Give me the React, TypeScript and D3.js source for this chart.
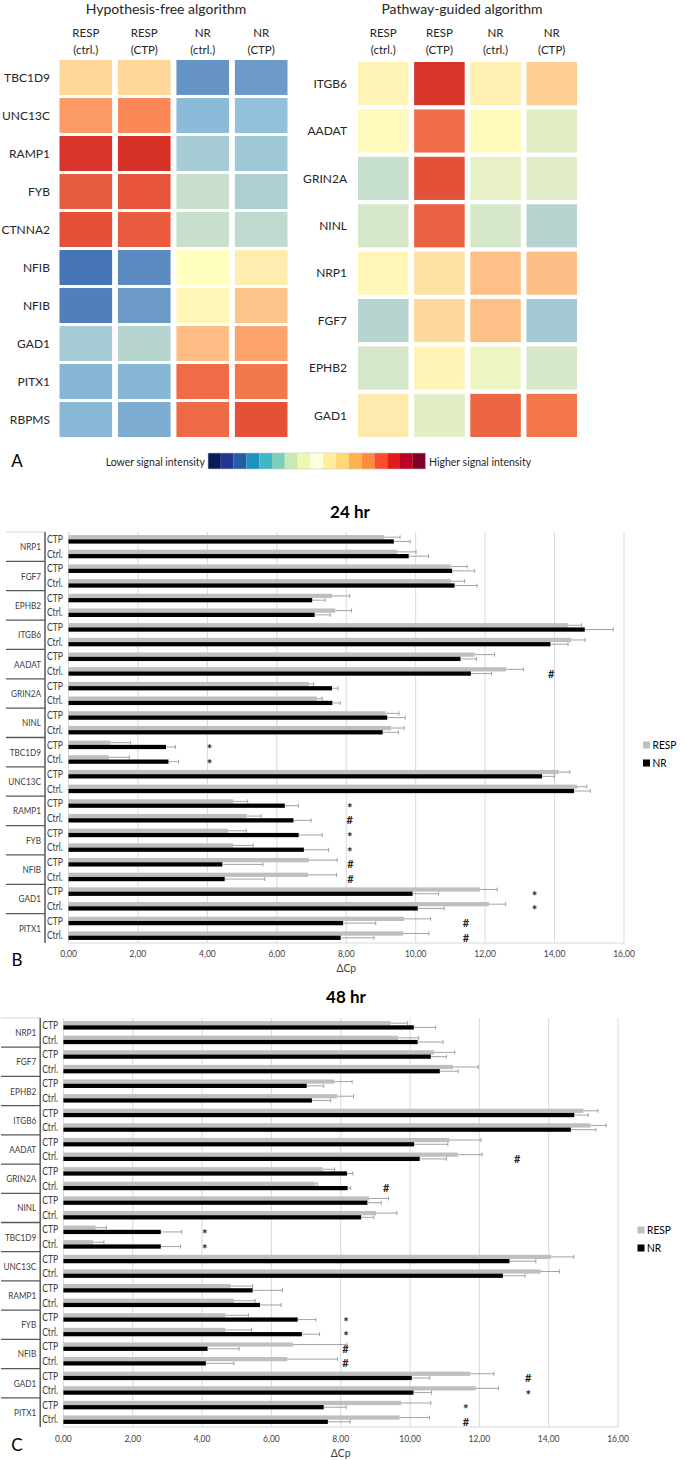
import * as d3 from 'd3';

// ── Panel A: heatmaps ───────────────────────────────────────────────────────
const heatCols = ['RESP|(ctrl.)', 'RESP|(CTP)', 'NR|(ctrl.)', 'NR|(CTP)'];

const hfGenes = ['TBC1D9', 'UNC13C', 'RAMP1', 'FYB', 'CTNNA2', 'NFIB', 'NFIB', 'GAD1', 'PITX1', 'RBPMS'];
// relative signal intensity, -1 (low) … 1 (high)
const hfValues = [
  [0.18, 0.18, -0.79, -0.74],
  [0.44, 0.52, -0.53, -0.49],
  [0.98, 1.0, -0.4, -0.44],
  [0.76, 0.8, -0.25, -0.37],
  [0.83, 0.77, -0.25, -0.29],
  [-1.0, -0.86, 0.0, 0.08],
  [-0.93, -0.75, 0.04, 0.26],
  [-0.4, -0.33, 0.29, 0.4],
  [-0.57, -0.57, 0.68, 0.62],
  [-0.55, -0.63, 0.69, 0.83],
];

const pgGenes = ['ITGB6', 'AADAT', 'GRIN2A', 'NINL', 'NRP1', 'FGF7', 'EPHB2', 'GAD1'];
const pgValues = [
  [0.05, 0.98, 0.07, 0.21],
  [0.02, 0.67, 0.02, -0.13],
  [-0.26, 0.82, -0.11, -0.14],
  [-0.19, 0.73, -0.18, -0.33],
  [0.04, 0.13, 0.27, 0.28],
  [-0.33, 0.17, 0.27, -0.42],
  [-0.19, 0.05, -0.07, -0.18],
  [0.09, -0.13, 0.71, 0.63],
];

const legendColors = [
  '#081d58', '#253494', '#225ea8', '#1d91c0', '#41b6c4', '#7fcdbb', '#c7e9b4', '#edf8b1', '#ffffd9',
  '#ffeda0', '#fed976', '#feb24c', '#fd8d3c', '#fc4e2a', '#e31a1c', '#bd0026', '#800026',
];

// ── Panels B / C: ΔCp bars ─────────────────────────────────────────────────
const barGenes = ['NRP1', 'FGF7', 'EPHB2', 'ITGB6', 'AADAT', 'GRIN2A', 'NINL', 'TBC1D9', 'UNC13C', 'RAMP1', 'FYB', 'NFIB', 'GAD1', 'PITX1'];
const conditions = ['CTP', 'Ctrl.'];
const xTicks = [0, 2, 4, 6, 8, 10, 12, 14, 16];

// order: gene by gene, CTP then Ctrl.
const resp24 = [9.10, 9.46, 11.01, 11.01, 7.59, 7.68, 14.38, 14.48, 11.70, 12.60, 6.92, 7.15, 9.13, 9.29, 1.21, 1.16, 14.12, 14.65, 4.75, 5.13, 4.59, 4.74, 6.92, 6.90, 11.85, 12.11, 9.67, 9.64];
const resp24Err = [0.45, 0.55, 0.47, 0.40, 0.51, 0.47, 0.40, 0.40, 0.57, 0.51, 0.14, 0.16, 0.39, 0.38, 0.58, 0.59, 0.32, 0.28, 0.41, 0.42, 0.53, 0.58, 0.82, 0.82, 0.50, 0.48, 0.76, 0.74];
const nr24 = [9.37, 9.80, 11.05, 11.12, 7.02, 7.09, 14.87, 13.88, 11.29, 11.59, 7.59, 7.60, 9.18, 9.05, 2.81, 2.88, 13.64, 14.56, 6.23, 6.48, 6.63, 6.78, 4.43, 4.50, 9.91, 10.06, 7.91, 7.84];
const nr24Err = [0.47, 0.57, 0.65, 0.65, 0.37, 0.45, 0.82, 0.51, 0.46, 0.59, 0.17, 0.23, 0.52, 0.45, 0.27, 0.29, 0.36, 0.47, 0.39, 0.51, 0.68, 0.71, 1.17, 1.15, 0.75, 0.76, 0.94, 0.96];

const resp48 = [9.44, 9.65, 10.70, 11.24, 7.82, 7.90, 15.00, 15.21, 11.14, 11.38, 7.48, 7.26, 8.82, 9.02, 0.93, 0.86, 14.07, 13.77, 4.83, 4.92, 4.67, 4.67, 6.62, 6.46, 11.74, 11.90, 9.74, 9.70];
const resp48Err = [0.49, 0.60, 0.59, 0.73, 0.51, 0.47, 0.42, 0.45, 0.91, 0.70, 0.34, 0.06, 0.56, 0.60, 0.31, 0.31, 0.66, 0.54, 0.63, 0.61, 0.67, 0.76, 1.56, 1.45, 0.68, 0.65, 0.86, 0.86];
const nr48 = [10.11, 10.22, 10.60, 10.86, 7.02, 7.17, 14.74, 14.64, 10.12, 10.28, 8.18, 8.20, 8.77, 8.59, 2.81, 2.81, 12.87, 12.68, 5.46, 5.67, 6.76, 6.88, 4.16, 4.11, 10.05, 10.10, 7.51, 7.63];
const nr48Err = [0.63, 0.73, 0.45, 0.53, 0.49, 0.54, 0.40, 0.72, 0.97, 0.77, 0.17, 0.09, 0.40, 0.37, 0.60, 0.57, 0.76, 0.64, 0.86, 0.61, 0.52, 0.51, 0.91, 0.81, 0.52, 0.52, 0.65, 0.64];

// [gene, condition, mark, ΔCp position]
const marks24: [string, string, string, number][] = [
  ['AADAT', 'Ctrl.', '#', 13.9],
  ['TBC1D9', 'CTP', '*', 4.06], ['TBC1D9', 'Ctrl.', '*', 4.06],
  ['RAMP1', 'CTP', '*', 8.1], ['RAMP1', 'Ctrl.', '#', 8.1],
  ['FYB', 'CTP', '*', 8.1], ['FYB', 'Ctrl.', '*', 8.1],
  ['NFIB', 'CTP', '#', 8.12], ['NFIB', 'Ctrl.', '#', 8.12],
  ['GAD1', 'CTP', '*', 13.42], ['GAD1', 'Ctrl.', '*', 13.42],
  ['PITX1', 'CTP', '#', 11.45], ['PITX1', 'Ctrl.', '#', 11.45],
];
const marks48: [string, string, string, number][] = [
  ['GRIN2A', 'Ctrl.', '#', 9.31],
  ['AADAT', 'Ctrl.', '#', 13.09],
  ['TBC1D9', 'CTP', '*', 4.08], ['TBC1D9', 'Ctrl.', '*', 4.08],
  ['FYB', 'CTP', '*', 8.15], ['FYB', 'Ctrl.', '*', 8.15],
  ['NFIB', 'CTP', '#', 8.14], ['NFIB', 'Ctrl.', '#', 8.14],
  ['GAD1', 'CTP', '#', 13.41], ['GAD1', 'Ctrl.', '*', 13.41],
  ['PITX1', 'CTP', '*', 11.61], ['PITX1', 'Ctrl.', '#', 11.61],
];

const FONT = "Lato, 'Open Sans', sans-serif";
const heatColor = d3.scaleLinear<string>()
  .domain([-1, -0.5, 0, 0.5, 1])
  .range(['#4575b4', '#91bfdb', '#ffffbf', '#fc8d59', '#d73027'])
  .interpolate(d3.interpolateRgb);

interface HeatProps {
  title: string; titleX: number;
  genes: string[]; values: number[][];
  xRange: [number, number]; yRange: [number, number];
  padY: number; labelX: number;
}

function Heatmap({ title, titleX, genes, values, xRange, yRange, padY, labelX }: HeatProps) {
  const x = d3.scaleBand().domain(heatCols).range(xRange).paddingInner(0.1);
  const y = d3.scaleBand().domain(genes.map((_, i) => String(i))).range(yRange).paddingInner(padY);
  return (
    <g fontFamily={FONT} fill="#262626">
      <text x={titleX} y={14} textAnchor="middle" fontSize={14}>{title}</text>
      {heatCols.map(c => {
        const [a, b] = c.split('|');
        const cx = x(c)! + x.bandwidth() / 2;
        return (
          <g key={c} fontSize={11.5} textAnchor="middle">
            <text x={cx} y={37}>{a}</text>
            <text x={cx} y={54}>{b}</text>
          </g>
        );
      })}
      {genes.map((g, i) => (
        <g key={i}>
          <text x={labelX} y={y(String(i))! + y.bandwidth() / 2} dy="0.35em" textAnchor="end" fontSize={12}>{g}</text>
          {values[i].map((v, j) => (
            <rect key={j} x={x(heatCols[j])} y={y(String(i))} width={x.bandwidth()} height={y.bandwidth()}
              fill={heatColor(v)} />
          ))}
        </g>
      ))}
    </g>
  );
}

interface BarProps {
  title: string; titleX: number; titleY: number;
  resp: number[]; respErr: number[]; nr: number[]; nrErr: number[];
  marks: [string, string, string, number][];
  xRange: [number, number]; yRange: [number, number];
  axisX: number; sepX: number; tickY: number; labelY: number;
  letter: string; letterY: number; legendX: number; legendY: number;
}

function BarChart(p: BarProps) {
  const keys = barGenes.flatMap(g => conditions.map(c => `${g}|${c}`));
  const x = d3.scaleLinear().domain([0, 16]).range(p.xRange);
  const y = d3.scaleBand().domain(keys).range(p.yRange);
  const inner = d3.scaleBand().domain(['RESP', 'NR']).range([0, y.bandwidth()]).paddingOuter(0.72);
  const geneH = y.step() * 2;
  const [top, bottom] = p.yRange;
  const series = [
    { name: 'RESP', vals: p.resp, errs: p.respErr, fill: '#bfbfbf' },
    { name: 'NR', vals: p.nr, errs: p.nrErr, fill: '#000000' },
  ];
  const cond = (x0: number, y0: number, s: string, size: number, anchor: string, sx = 0.82) => (
    <g transform={`translate(${x0},${y0}) scale(${sx},1)`}>
      <text textAnchor={anchor} dy="0.35em" fontSize={size}>{s}</text>
    </g>
  );
  return (
    <g fontFamily={FONT}>
      <text x={p.titleX} y={p.titleY} dy="0.35em" textAnchor="middle" fontSize={17} fontWeight="bold" fill="#000">{p.title}</text>
      {/* grid */}
      {xTicks.map(t => (
        <line key={t} x1={x(t)} x2={x(t)} y1={top} y2={bottom} stroke="#d9d9d9" strokeWidth={1} />
      ))}
      <line x1={x(0)} x2={x(16)} y1={bottom} y2={bottom} stroke="#d9d9d9" />
      {/* bars */}
      {series.map(s => (
        <g key={s.name}>
          {keys.map((k, i) => {
            const by = y(k)! + inner(s.name)!;
            const cy = by + inner.bandwidth() / 2;
            const xe = x(s.vals[i] + s.errs[i]);
            return (
              <g key={k}>
                <rect x={x(0)} y={by} width={x(s.vals[i]) - x(0)} height={inner.bandwidth()} fill={s.fill} />
                <line x1={x(s.vals[i])} x2={xe} y1={cy} y2={cy} stroke="#8c8c8c" strokeWidth={0.8} />
                <line x1={xe} x2={xe} y1={cy - 2} y2={cy + 2} stroke="#8c8c8c" strokeWidth={0.8} />
              </g>
            );
          })}
        </g>
      ))}
      {/* significance marks */}
      {p.marks.map(([g, c, m, v], i) => {
        const cy = y(`${g}|${c}`)! + inner('NR')! + inner.bandwidth() / 2;
        return (
          <text key={i} x={x(v)} y={cy + (m === '*' ? 7 : 4)} textAnchor="middle" fontSize={m === '*' ? 13 : 11}
            fontWeight="bold" fill="#262626">{m}</text>
        );
      })}
      {/* category axis */}
      <g fill="#404040">
        {barGenes.map((g, i) => (
          <g key={g}>
            {i > 0 && <line x1={p.sepX} x2={p.axisX} y1={top + i * geneH} y2={top + i * geneH} stroke="#595959" strokeWidth={1.3} />}
            {cond(p.axisX - 4, top + i * geneH + geneH / 2, g, 10, 'end')}
          </g>
        ))}
        {keys.map(k => cond(p.axisX + 2, y(k)! + y.bandwidth() / 2, k.split('|')[1], 10.5, 'start'))}
      </g>
      <line x1={p.sepX} x2={p.axisX} y1={top} y2={top} stroke="#d9d9d9" />
      <line x1={p.axisX} x2={p.axisX} y1={top} y2={bottom} stroke="#595959" strokeWidth={1.5} />
      {/* value axis */}
      <g fill="#404040">
        {xTicks.map(t => cond(x(t), p.tickY, d3.format('.2f')(t).replace('.', ','), 10, 'middle', 0.85))}
        {cond((x(0) + x(16)) / 2, p.labelY, 'ΔCp', 11.5, 'middle', 0.9)}
      </g>
      <text x={17} y={p.letterY} dy="0.35em" textAnchor="middle" fontSize={17} fill="#000">{p.letter}</text>
      {/* legend */}
      {series.map((s, i) => (
        <g key={s.name}>
          <rect x={p.legendX - 3.5} y={p.legendY + i * 18 - 3.5} width={7} height={7} fill={s.fill} />
          {cond(p.legendX + 6, p.legendY + i * 18, s.name, 12, 'start', 0.85)}
        </g>
      ))}
    </g>
  );
}

export default function App() {
  const lx = d3.scaleBand().domain(legendColors.map((_, i) => String(i))).range([208, 425.6]);
  return (
    <svg width={685} height={1460} style={{ position: 'absolute', left: 0, top: 0, background: '#fff' }}>
      <Heatmap title="Hypothesis-free algorithm" titleX={166} genes={hfGenes} values={hfValues}
        xRange={[59.5, 287.5]} yRange={[60, 437]} padY={0.08} labelX={50} />
      <Heatmap title="Pathway-guided algorithm" titleX={462} genes={pgGenes} values={pgValues}
        xRange={[358, 577]} yRange={[62, 437]} padY={0.09} labelX={347} />

      {/* colour legend */}
      <g fontFamily={FONT} fill="#262626">
        <text x={17} y={461} dy="0.35em" textAnchor="middle" fontSize={17} fill="#000">A</text>
        <text x={205} y={462} dy="0.35em" textAnchor="end" fontSize={10.5}>Lower signal intensity</text>
        {legendColors.map((c, i) => (
          <rect key={i} x={lx(String(i))} y={453} width={lx.bandwidth()} height={16} fill={c} />
        ))}
        <rect x={208} y={453} width={217.6} height={16} fill="none" stroke="#c8c8c8" strokeWidth={0.6} />
        <text x={429} y={462} dy="0.35em" fontSize={10.5}>Higher signal intensity</text>
      </g>

      <BarChart title="24 hr" titleX={350} titleY={512}
        resp={resp24} respErr={resp24Err} nr={nr24} nrErr={nr24Err} marks={marks24}
        xRange={[68.5, 624]} yRange={[532, 943]} axisX={45} sepX={6}
        tickY={953} labelY={968} letter="B" letterY={960} legendX={646.5} legendY={745} />
      <BarChart title="48 hr" titleX={346} titleY={997}
        resp={resp48} respErr={resp48Err} nr={nr48} nrErr={nr48Err} marks={marks48}
        xRange={[63.4, 618]} yRange={[1018, 1427]} axisX={40.2} sepX={1}
        tickY={1438} labelY={1453} letter="C" letterY={1445} legendX={641} legendY={1230} />
    </svg>
  );
}
